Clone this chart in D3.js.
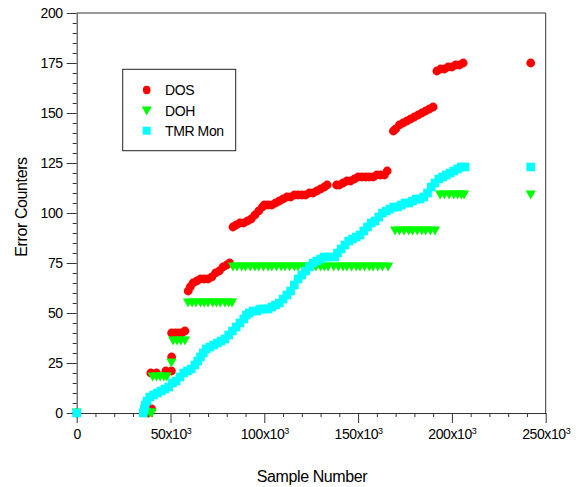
<!DOCTYPE html>
<html>
<head>
<meta charset="utf-8">
<script src="https://cdn.jsdelivr.net/npm/d3@7"></script>
<style>
  html, body { margin: 0; padding: 0; background: #fff; }
  svg { display: block; font-family: "Liberation Sans", Arial, sans-serif; }
</style>
</head>
<body>
<svg id="chart" width="582" height="487"></svg>
<script>
// ---- data (sample number in thousands, error count) ----
const dos = [
  [0,0],[38,0],[39,1],[40,2],
  [39.5,20],[42.5,20],[47.5,21],[50.5,21],
  [50.6,28],
  [50.6,40],[52.5,40],[54.2,40],[56,40],[57.7,41],
  [59.4,61],[60.5,63],[62,65],[64,66],[66,67],[68,67],[70,67],[72,68],[74,70],[76,71],[78,73],[80,74],[81.5,75],
  [83.3,93],[85,94],[87,95],[89,95],[91,96],[93,97],[95,99],[97,101],[99,103],[100,104],[102,104],[104,104],
  [106,105],[108,106],[110,107],[112,108],[114,108],[116,109],[118,109],[120,109],[122,109],[124,110],[126,110],
  [128,111],[130,112],[132,113],[133.5,114],
  [138.5,114],[140,114],[142,115],[144,116],[146,116],[148,117],[150,118],[152,118],[154,118],[156,118],[158,118],
  [160,119],[162,119],[164,119],[165.5,121],
  [168.8,141],[170,142],[172,144],[174,145],[176,146],[178,147],[180,148],[182,149],[184,150],[186,151],[188,152],[190,153],
  [192,171],[194,172],[196,172],[198,173],[200,173],[202,174],[204,174],[206,175],
  [242,175]
];
const doh = [
  [0,0],[37,0],[39,0],[40,0],
  [40.5,18],[42.5,18],[44.5,18],[46.5,18],[48,18],
  [50.5,25],
  [51.4,36],[53.5,36],[55.5,36],[57.7,36],
  [59.3,55],[61.5,55],[63.5,55],[66,55],[68,55],[70,55],[72.5,55],[74.5,55],[76.5,55],[79,55],[81,55],[82.8,55],
  [83.3,73],[85.5,73],[88,73],[90,73],[92.5,73],[95,73],[97,73],[99.5,73],[102,73],[104,73],[106.5,73],[109,73],
  [111,73],[113.5,73],[116,73],[118,73],[120.5,73],[123,73],[125,73],[127.5,73],[130,73],[132,73],[134,73],
  [137,73],[139.5,73],[142,73],[144,73],[146.5,73],[149,73],[151,73],[153.5,73],[156,73],[158,73],[160.5,73],[163,73],[166,73],
  [169.7,91],[172,91],[174.5,91],[177,91],[179,91],[181.5,91],[184,91],[186,91],[188.5,91],[191,91],
  [193.7,109],[196,109],[198.5,109],[201,109],[203,109],[205,109],[206.5,109],
  [242,109]
];
const tmr = [
  [0,0],
  [35.5,0],[36,2],[36.5,4],[37.5,6],[39,8],[41,9],[43,10],[45,11],[47,12],[49,13],[51,15],[53,16],[55,18],[57,20],
  [59,21],[61,22],[63,24],[64.5,26],[66,28],[67.5,30],[69,32],[71,33],[73,34],[75,35],[77,36],[79,37],[81,39],
  [83,41],[85,43],[87,45],[89,47],[90.5,49],[92,50],[94,51],[96,51],[98,52],[100,52],[102,52],[104,53],[106,54],
  [108,55],[110,57],[112,59],[114,61],[116,64],[118,67],[120,69],[122,71],[124,73],[126,75],[128,76],[130,77],
  [132,78],[134,78],
  [137.5,78],[139,80],[141,82],[143,84],[145,86],[147,87],[149,88],[151,89],[153,91],[155,93],[157,95],[159,96],
  [161,98],[163,100],[165,101],[167,102],[169,103],[171,103],[173,104],[175,105],[177,105],[179,106],[181,107],
  [183,107],[185,108],[187,110],[189,113],[191,115],[193,117],[195,118],[197,119],[199,120],[201,121],[203,122],
  [205,123],[207,123],
  [242,123]
];
const xMajorTicks = [0, 50, 100, 150, 200, 250];
const xMajorLabels = ["0", "50x10|3", "100x10|3", "150x10|3", "200x10|3", "250x10|3"];
const yMajorTicks = [0, 25, 50, 75, 100, 125, 150, 175, 200];
const seriesNames = ["DOS", "DOH", "TMR Mon"];

// ---- drawing ----
const svg = d3.select("#chart");
const x = d3.scaleLinear().domain([0, 250]).range([76.7, 545.7]);
const y = d3.scaleLinear().domain([0, 200]).range([413, 13]);
const axisColor = "#333";

// frame (top and right)
svg.append("path")
  .attr("d", `M${x(0)},${y(200)}H${x(250)}V${y(0)}`)
  .attr("fill", "none").attr("stroke", axisColor).attr("stroke-width", 1);

// minor ticks
const xMinor = d3.range(0, 251, 10).filter(v => v % 50 !== 0);
const yMinor = d3.range(0, 201, 5).filter(v => v % 25 !== 0);
svg.append("g").attr("transform", `translate(0,${y(0)})`)
  .call(d3.axisBottom(x).tickValues(xMinor).tickSize(4).tickSizeOuter(0).tickFormat(""))
  .call(g => g.select(".domain").remove())
  .call(g => g.selectAll("line").attr("stroke", axisColor));
svg.append("g").attr("transform", `translate(${x(0)},0)`)
  .call(d3.axisLeft(y).tickValues(yMinor).tickSize(4).tickSizeOuter(0).tickFormat(""))
  .call(g => g.select(".domain").remove())
  .call(g => g.selectAll("line").attr("stroke", axisColor));

// major axes
const gx = svg.append("g").attr("transform", `translate(0,${y(0)})`)
  .call(d3.axisBottom(x).tickValues(xMajorTicks).tickSize(10).tickSizeOuter(0)
    .tickFormat((d, i) => xMajorLabels[i]));
gx.select(".domain").attr("stroke", axisColor);
gx.selectAll("line").attr("stroke", axisColor);
gx.selectAll(".tick text")
  .attr("font-family", "'Liberation Sans', Arial, sans-serif")
  .attr("font-size", 14).attr("fill", "#000").attr("letter-spacing", "-0.4")
  .attr("y", 16)
  .each(function(d, i) {
    const parts = xMajorLabels[i].split("|");
    const t = d3.select(this).text(null);
    t.append("tspan").text(parts[0]);
    if (parts[1]) t.append("tspan").attr("font-size", 9).attr("dy", -5).text(parts[1]);
  });

const gy = svg.append("g").attr("transform", `translate(${x(0)},0)`)
  .call(d3.axisLeft(y).tickValues(yMajorTicks).tickSize(10).tickSizeOuter(0));
gy.select(".domain").attr("stroke", axisColor);
gy.selectAll("line").attr("stroke", axisColor);
gy.selectAll(".tick text")
  .attr("font-family", "'Liberation Sans', Arial, sans-serif")
  .attr("font-size", 14).attr("fill", "#000").attr("letter-spacing", "-0.4")
  .attr("x", -14);

// axis titles
svg.append("text").attr("x", 312).attr("y", 482).attr("text-anchor", "middle")
  .attr("font-size", 16).attr("letter-spacing", "-0.4").text("Sample Number");
svg.append("text").attr("transform", "translate(27,207) rotate(-90)").attr("text-anchor", "middle")
  .attr("font-size", 16).attr("letter-spacing", "-0.4").text("Error Counters");

// markers
const triPath = "M-5,-4.5L5,-4.5L0,4.5Z";
const plot = svg.append("g");
plot.selectAll("circle.dos").data(dos).join("circle")
  .attr("class", "dos").attr("cx", d => x(d[0])).attr("cy", d => y(d[1]))
  .attr("r", 4.4).attr("fill", "#ff0000");
plot.selectAll("path.doh").data(doh).join("path")
  .attr("class", "doh").attr("d", triPath)
  .attr("transform", d => `translate(${x(d[0])},${y(d[1])})`)
  .attr("fill", "#00ff00");
plot.selectAll("rect.tmr").data(tmr).join("rect")
  .attr("class", "tmr").attr("x", d => x(d[0]) - 4.3).attr("y", d => y(d[1]) - 4.3)
  .attr("width", 8.6).attr("height", 8.6).attr("fill", "#00ffff");

// legend
const lg = svg.append("g");
lg.append("rect").attr("x", 122.7).attr("y", 69.3).attr("width", 113).attr("height", 81.4)
  .attr("fill", "#fff").attr("stroke", "#222").attr("stroke-width", 1);
const ly = [90, 111, 130.7];
lg.append("ellipse").attr("cx", 146.7).attr("cy", ly[0]).attr("rx", 3.8).attr("ry", 4.2).attr("fill", "#ff0000");
lg.append("path").attr("d", triPath).attr("transform", `translate(146.7,${ly[1]})`).attr("fill", "#00ff00");
lg.append("rect").attr("x", 146.7 - 4).attr("y", ly[2] - 4).attr("width", 8).attr("height", 8).attr("fill", "#00ffff");
seriesNames.forEach((n, i) => {
  lg.append("text").attr("x", 165).attr("y", ly[i] + 5).attr("font-size", 14)
    .attr("letter-spacing", "-0.4").text(n);
});
</script>
</body>
</html>
